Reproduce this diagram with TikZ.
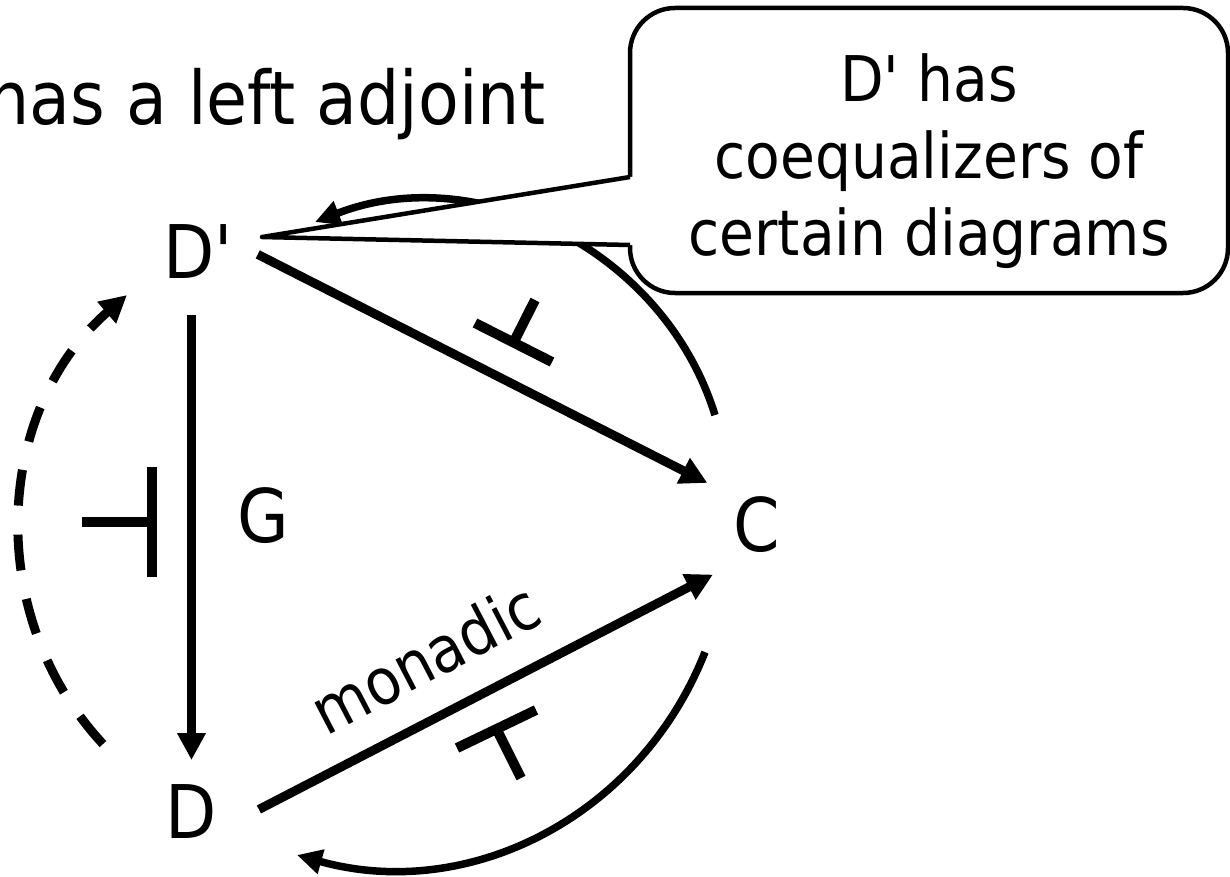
\documentclass[tikz,border=0pt]{standalone}
\usepackage{fontspec}
\setmainfont{DejaVu Sans Condensed}
\usetikzlibrary{arrows.meta}

\begin{document}
\begin{tikzpicture}[x=1pt,y=1pt,
  lbl/.style={inner sep=0pt, outer sep=0pt, font=\fontsize{74}{88}\selectfont},
  arr/.style={line width=9pt, -{Triangle[length=27pt,width=27pt]}},
  arcarr/.style={line width=7.5pt, -{Triangle[length=25pt,width=24pt]}},
  adj/.style={line width=10pt},
  notebox/.style={draw, line width=4.5pt, rounded corners=45pt, fill=white,
    minimum width=598pt, minimum height=285pt, inner sep=0pt, outer sep=0pt},
  notetxt/.style={inner sep=0pt, align=center, font=\fontsize{63}{77}\selectfont}]
\useasboundingbox (0,0) rectangle (1230,-877);

% objects
\node[lbl, anchor=base east] (title) at (546,-125) {has a left adjoint};
\node[lbl, anchor=base] (Dp) at (198,-278) {D\textquotesingle};
\node[lbl, anchor=base] (D) at (191.5,-838) {D};
\node[lbl, anchor=base] (C) at (756.5,-551) {C};
\node[lbl, anchor=base] (G) at (263.5,-542) {G};
\node[lbl, font=\fontsize{64}{76}\selectfont, rotate=27.5, anchor=base] (mon) at (436,-679) {monadic};

% functors
\draw[arr, shorten <=37pt, shorten >=24pt] (Dp.south -| D.north) -- (D.north);
\draw[arr, shorten <=28pt, shorten >=29pt] (Dp.15) -- (C.north west);
\draw[arr, shorten <=47pt, shorten >=49pt] (D.-38) -- (C.south);
\draw[arr, dash pattern=on 36pt off 29pt]
  ([shift={(-88.5pt,67pt)}]D.center) to[bend left=46] ([shift={(-71pt,-44pt)}]Dp.center);
\draw[arcarr] ([shift={(-51.5pt,-128pt)}]C.center) to[bend left=42] ([shift={(105.5pt,-44pt)}]D.center);
\draw[arcarr] ([shift={(-41.5pt,109pt)}]C.center) to[bend right=47] ([shift={(117pt,29pt)}]Dp.center);

% adjunctions
\draw[adj] (82,-522) -- (152,-522) (152,-467) -- (152,-577);
\draw[adj] (475,-323) -- (552,-362) (513.5,-342.5) -- (535,-300);
\draw[adj] (457,-748) -- (536,-710) (496.5,-729) -- (521,-778);

% callout
\node[notebox] (note) at (929,-150.5) {};
\node[notetxt] (notetext) at (929,-161) {D\textquotesingle{} has\\coequalizers of\\certain diagrams};
\fill[white] ([shift={(64pt,14pt)}]Dp.center) -- ([yshift=-26.5pt]note.west)
  -- ([shift={(5pt,-26.5pt)}]note.west) -- ([shift={(5pt,-94.5pt)}]note.west)
  -- ([yshift=-94.5pt]note.west) -- cycle;
\draw[line width=4.5pt, line join=round] ([yshift=-26.5pt]note.west)
  -- ([shift={(64pt,14pt)}]Dp.center) -- ([yshift=-94.5pt]note.west);
\end{tikzpicture}
\end{document}
